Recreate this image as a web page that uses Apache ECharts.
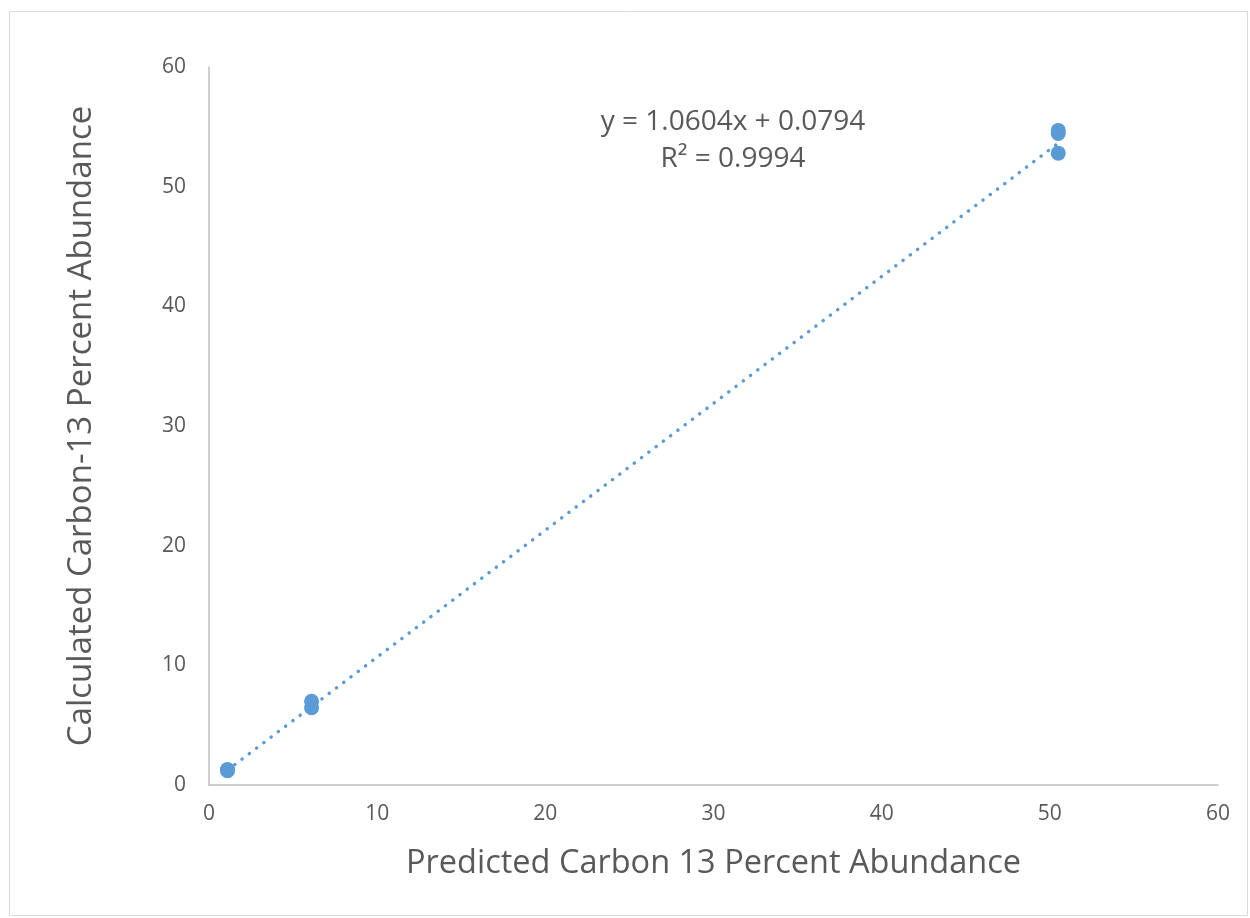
<!DOCTYPE html>
<html>
<head>
<meta charset="utf-8">
<script src="https://cdn.jsdelivr.net/npm/echarts@6/dist/echarts.min.js"></script>
<style>
  html, body { margin: 0; padding: 0; background: #fff; }
  #chart { width: 1250px; height: 918px; }
</style>
</head>
<body>
<div id="chart"></div>
<script>
// Measured samples: predicted vs calculated carbon-13 abundance (%)
const predicted  = [1.1, 1.1, 6.1, 6.1, 50.5, 50.5, 50.5];
const calculated = [1.2, 1.3, 7.0, 6.45, 54.7, 54.45, 52.8];

// Linear trendline reported for the data
const slope = 1.0604;
const intercept = 0.0794;
const rSquared = 0.9994;

const axisTicks = [0, 10, 20, 30, 40, 50, 60];

const xTitle = 'Predicted Carbon 13 Percent Abundance';
const yTitle = 'Calculated Carbon-13 Percent Abundance';

const FONT = '"Open Sans", sans-serif';
const BLUE = '#5B9BD5';

const points = predicted.map((x, i) => [x, calculated[i]]);
const xMin = Math.min(...predicted);
const xMax = Math.max(...predicted);
const trend = [xMin, xMax].map(x => [x, slope * x + intercept]);

const eqText = 'y = ' + slope.toFixed(4) + 'x + ' + intercept.toFixed(4) +
               '\nR\u00B2 = ' + rSquared.toFixed(4);

const chart = echarts.init(document.getElementById('chart'), null, { renderer: 'canvas' });

const axisCommon = {
  type: 'value',
  min: axisTicks[0],
  max: axisTicks[axisTicks.length - 1],
  interval: axisTicks[1] - axisTicks[0],
  axisLine: { show: true, lineStyle: { color: '#BFBFBF', width: 1.5 } },
  axisTick: { show: false },
  splitLine: { show: false },
  axisLabel: { color: '#595959', fontSize: 21, fontFamily: FONT }
};

chart.setOption({
  animation: false,
  backgroundColor: '#fff',
  grid: { left: 209, right: 32, top: 67, bottom: 133, containLabel: false },
  xAxis: Object.assign({}, axisCommon, {
    name: xTitle,
    nameLocation: 'middle',
    nameGap: 62,
    nameTextStyle: { color: '#595959', fontSize: 32.5, fontFamily: FONT },
    axisLabel: Object.assign({}, axisCommon.axisLabel, { margin: 19 })
  }),
  yAxis: Object.assign({}, axisCommon, {
    name: yTitle,
    nameLocation: 'middle',
    nameGap: 111,
    nameTextStyle: { color: '#595959', fontSize: 33, fontFamily: FONT },
    axisLabel: Object.assign({}, axisCommon.axisLabel, { margin: 23 })
  }),
  graphic: [
    {
      type: 'rect',
      shape: { x: 9.5, y: 11.5, width: 1238, height: 904 },
      style: { fill: 'none', stroke: '#D9D9D9', lineWidth: 1 },
      silent: true,
      z: -1
    },
    {
      type: 'text',
      left: 733 - 150,
      top: 104,
      style: {
        text: eqText,
        fill: '#595959',
        font: '28px ' + FONT,
        textAlign: 'center',
        lineHeight: 37,
        width: 300
      }
    }
  ],
  series: [
    {
      type: 'line',
      data: trend,
      symbol: 'none',
      lineStyle: { color: BLUE, width: 3.5, type: [0.1, 9], cap: 'round' },
      z: 1
    },
    {
      type: 'scatter',
      data: points,
      symbol: 'circle',
      symbolSize: 15,
      itemStyle: { color: BLUE, opacity: 1 },
      z: 2
    }
  ]
});
</script>
</body>
</html>
